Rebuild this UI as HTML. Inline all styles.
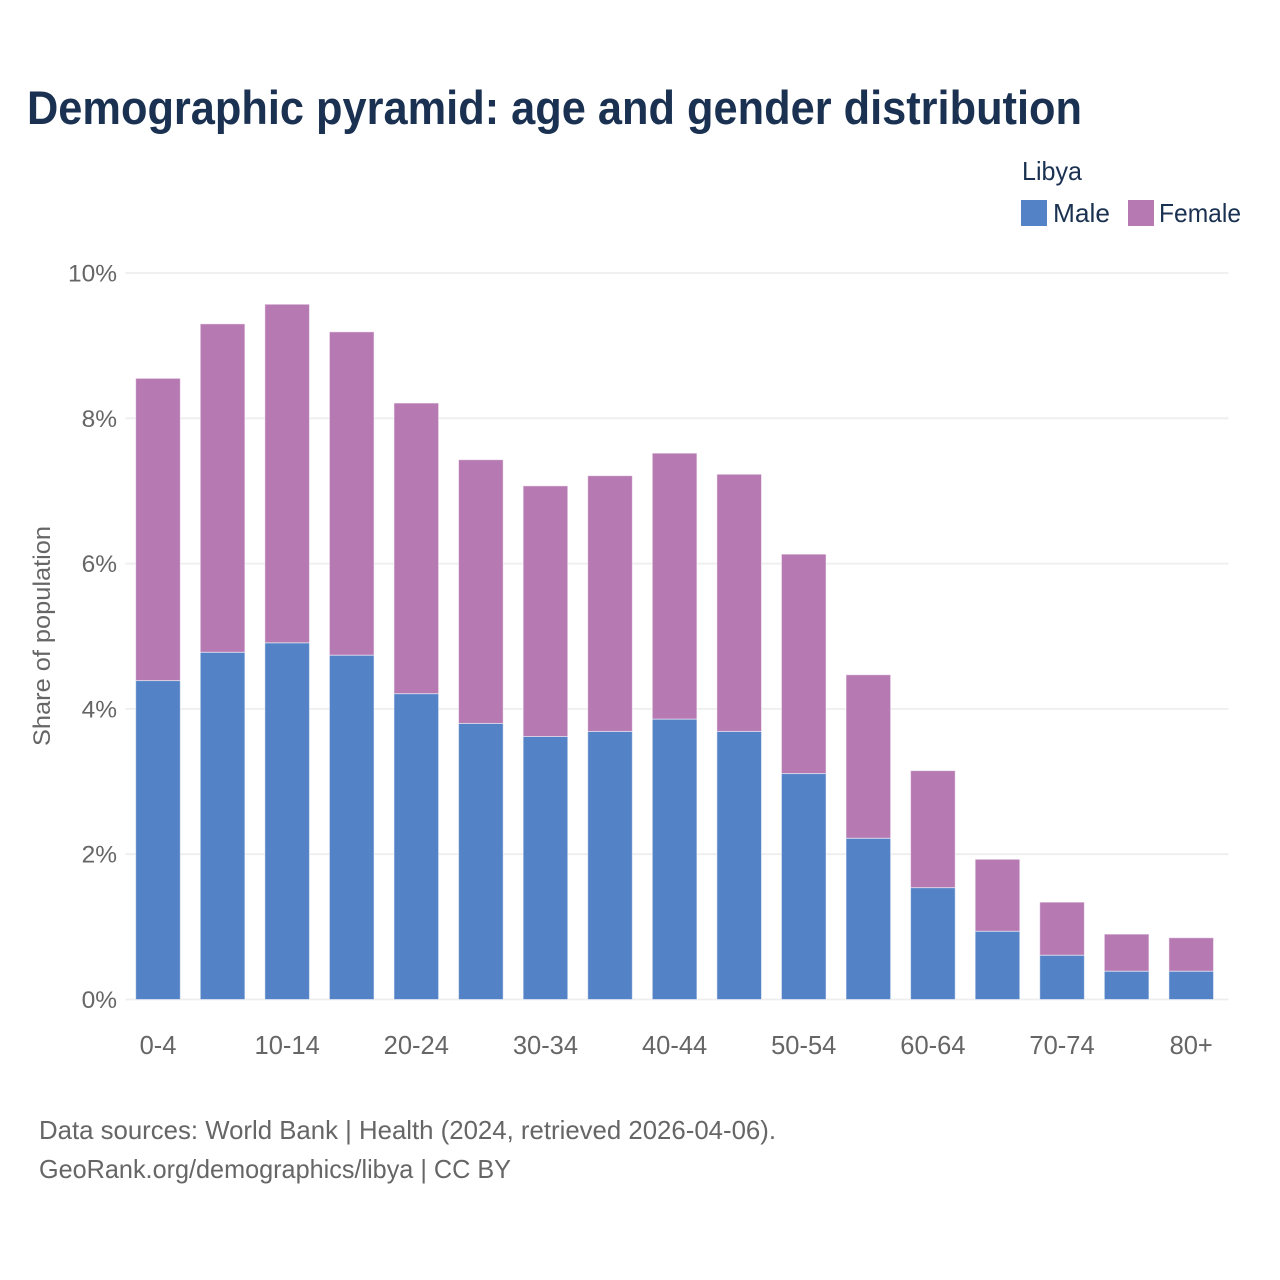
<!DOCTYPE html>
<html lang="en">
<head>
<meta charset="utf-8">
<title>Demographic pyramid: age and gender distribution</title>
<style>
html,body{margin:0;padding:0;background:#fff;width:1280px;height:1280px;overflow:hidden}
svg{display:block}
text{font-family:"Liberation Sans",sans-serif}
</style>
</head>
<body>
<svg id="chart" xmlns="http://www.w3.org/2000/svg" width="1280" height="1280" viewBox="0 0 1280 1280">
<rect width="1280" height="1280" fill="#fff"/>
<text x="27" y="124" font-size="47" font-weight="700" fill="#1a3151" textLength="1055" lengthAdjust="spacingAndGlyphs">Demographic pyramid: age and gender distribution</text>
<text x="1022" y="180" font-size="26" fill="#1a3151" textLength="60" lengthAdjust="spacingAndGlyphs">Libya</text>
<g>
<rect x="1021" y="200" width="26" height="26" fill="#5482c6"/>
<text x="1053" y="222" font-size="26" fill="#1a3151" textLength="57" lengthAdjust="spacingAndGlyphs">Male</text>
</g>
<g>
<rect x="1128" y="200" width="26" height="26" fill="#b679b2"/>
<text x="1159" y="222" font-size="26" fill="#1a3151" textLength="82" lengthAdjust="spacingAndGlyphs">Female</text>
</g>
<g id="grid"></g>
<g id="ylabels"></g>
<g id="bars"></g>
<g id="xlabels"></g>
<text transform="translate(50,636) rotate(-90)" text-anchor="middle" font-size="24" fill="#666" textLength="220" lengthAdjust="spacingAndGlyphs">Share of population</text>
<text x="39" y="1139" font-size="26" fill="#666" textLength="737" lengthAdjust="spacingAndGlyphs">Data sources: World Bank | Health (2024, retrieved 2026-04-06).</text>
<text x="39" y="1178" font-size="26" fill="#666" textLength="472" lengthAdjust="spacingAndGlyphs">GeoRank.org/demographics/libya | CC BY</text>
</svg>
<script>
const categories = ["0-4","5-9","10-14","15-19","20-24","25-29","30-34","35-39","40-44","45-49","50-54","55-59","60-64","65-69","70-74","75-79","80+"];
const maleValues = [4.39,4.78,4.91,4.74,4.21,3.80,3.62,3.69,3.86,3.69,3.11,2.22,1.54,0.94,0.61,0.39,0.39];
const femaleValues = [4.16,4.52,4.66,4.45,4.00,3.63,3.45,3.52,3.66,3.54,3.02,2.25,1.61,0.99,0.73,0.51,0.46];
const yTicks = [0,2,4,6,8,10];
const xTickLabels = ["0-4","10-14","20-24","30-34","40-44","50-54","60-64","70-74","80+"];

const NS = "http://www.w3.org/2000/svg";
const plotLeft = 125.5, plotRight = 1228.5, plotBottom = 999.5, plotTop = 273;
const firstCenter = 158, lastCenter = 1191.2;
const step = (lastCenter - firstCenter) / (categories.length - 1);
const barWidth = 44.6;
const yScale = v => plotBottom - (v / 10) * (plotBottom - plotTop);
const xScale = c => firstCenter + step * categories.indexOf(c);

function make(tag, attrs, parent, txt) {
  const el = document.createElementNS(NS, tag);
  for (const k in attrs) el.setAttribute(k, attrs[k]);
  if (txt !== undefined) el.textContent = txt;
  parent.appendChild(el);
  return el;
}
const grid = document.getElementById("grid");
const ylabels = document.getElementById("ylabels");
const bars = document.getElementById("bars");
const xlabels = document.getElementById("xlabels");

yTicks.forEach(t => {
  const line = make("line", {x1: plotLeft, x2: plotRight, y1: yScale(t), y2: yScale(t), stroke: "#eeeeee", "stroke-width": 1.8}, grid);
  
  
  const label = make("text", {x: 117, y: yScale(t) + 8.5, "text-anchor": "end", "font-size": 24.5, fill: "#666"}, ylabels, t + "%");
  
  
});

categories.forEach((c, i) => {
  const cx = xScale(c);
  const m = maleValues[i], f = femaleValues[i];
  const maleBar = make("rect", {x: cx - barWidth / 2, y: yScale(m), width: barWidth, height: yScale(0) - yScale(m), fill: "#5482c6", stroke: "#fff", "stroke-opacity": 0.5, "stroke-width": 1}, bars);
  
  
  const femaleBar = make("rect", {x: cx - barWidth / 2, y: yScale(m + f), width: barWidth, height: yScale(m) - yScale(m + f), fill: "#b679b2", stroke: "#fff", "stroke-opacity": 0.5, "stroke-width": 1}, bars);
  
  
});

xTickLabels.forEach(c => {
  const label = make("text", {x: xScale(c), y: 1054, "text-anchor": "middle", "font-size": 25.5, fill: "#666"}, xlabels, c);
  
  
});
</script>
</body>
</html>
